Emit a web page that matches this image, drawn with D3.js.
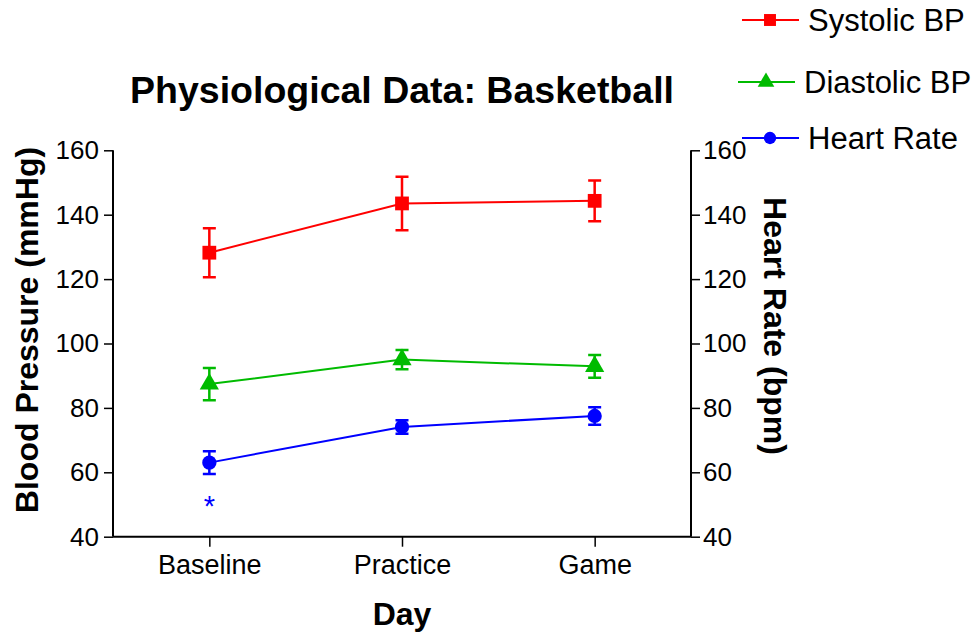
<!DOCTYPE html>
<html>
<head>
<meta charset="utf-8">
<script src="https://cdn.jsdelivr.net/npm/d3@7"></script>
<style>
  body { margin: 0; background: #fff; }
  text { font-family: "Liberation Sans", Arial, sans-serif; }
</style>
</head>
<body>
<div id="chart"></div>
<script>
(function() {
	// data
	var days = ["Baseline", "Practice", "Game"];
	var systolic = [128.2, 143.5, 144.3];
	var systolicErr = [7.6, 8.3, 6.3];
	var diastolic = [87.4, 95.0, 92.9];
	var diastolicErr = [5.0, 3.0, 3.5];
	var heartRate = [63.0, 74.1, 77.5];
	var heartRateErr = [3.5, 2.1, 2.7];
	var yTicks = [40, 60, 80, 100, 120, 140, 160];

	var width = 976;
	var height = 633;
	var left = 113, right = 691, top = 150.3, bottom = 536.7;

	var svg = d3.select("#chart")
		.append("svg")
		.attr("width", width)
		.attr("height", height);

	var x = d3.scalePoint()
		.domain(days)
		.range([left, right])
		.padding(0.5);
	var y = d3.scaleLinear()
		.domain([40, 160])
		.range([bottom, top]);
	// heart rate axis on the right uses the same range
	var y2 = d3.scaleLinear()
		.domain([40, 160])
		.range([bottom, top]);

	// axes
	svg.append("g")
		.attr("transform", "translate(" + left + ",0)")
		.call(d3.axisLeft(y).tickValues(yTicks).tickSize(9).tickPadding(5));
	svg.append("g")
		.attr("transform", "translate(" + right + ",0)")
		.call(d3.axisRight(y2).tickValues(yTicks).tickSize(9).tickPadding(3));
	svg.append("g")
		.attr("class", "xaxis")
		.attr("transform", "translate(0," + bottom + ")")
		.call(d3.axisBottom(x).tickSize(10).tickPadding(8));
	svg.selectAll(".domain").remove();

	svg.append("line")
		.attr("x1", left).attr("x2", right)
		.attr("y1", bottom).attr("y2", bottom)
		.attr("stroke", "#000").attr("stroke-width", 2);
	svg.append("line")
		.attr("x1", left).attr("x2", left)
		.attr("y1", top).attr("y2", bottom)
		.attr("stroke", "#000").attr("stroke-width", 2);
	svg.append("line")
		.attr("x1", right).attr("x2", right)
		.attr("y1", top).attr("y2", bottom)
		.attr("stroke", "#000").attr("stroke-width", 2);

	svg.selectAll(".tick line").attr("stroke", "#000").attr("stroke-width", 1.5);
	svg.selectAll(".tick text")
		.attr("fill", "#000")
		.style("font-size", "26px")
		.style("font-family", "Liberation Sans, Arial, sans-serif");
	svg.selectAll(".xaxis .tick text").style("font-size", "27px");

	// titles
	svg.append("text")
		.attr("x", 402).attr("y", 103)
		.attr("text-anchor", "middle")
		.style("font-size", "37.5px").style("font-weight", "bold")
		.text("Physiological Data: Basketball");
	svg.append("text")
		.attr("x", 402).attr("y", 625)
		.attr("text-anchor", "middle")
		.style("font-size", "32px").style("font-weight", "bold")
		.text("Day");
	svg.append("text")
		.attr("transform", "translate(38,330) rotate(-90)")
		.attr("text-anchor", "middle")
		.style("font-size", "32px").style("font-weight", "bold")
		.text("Blood Pressure (mmHg)");
	svg.append("text")
		.attr("transform", "translate(764,326) rotate(90)")
		.attr("text-anchor", "middle")
		.style("font-size", "32px").style("font-weight", "bold")
		.text("Heart Rate (bpm)");

	var series = [
		{ name: "Systolic BP", values: systolic, errs: systolicErr, color: "#ff0000", shape: d3.symbolSquare, size: 190, scale: y },
		{ name: "Diastolic BP", values: diastolic, errs: diastolicErr, color: "#00bb00", shape: d3.symbolTriangle, size: 160, scale: y },
		{ name: "Heart Rate", values: heartRate, errs: heartRateErr, color: "#0000ff", shape: d3.symbolCircle, size: 160, scale: y2 }
	];

	series.forEach(function(s) {
		var g = svg.append("g");
		var pts = days.map(function(d, i) {
			return { day: d, v: s.values[i], e: s.errs[i] };
		});
		var line = d3.line()
			.x(function(d) { return x(d.day); })
			.y(function(d) { return s.scale(d.v); });
		g.append("path")
			.datum(pts)
			.attr("d", line)
			.attr("fill", "none")
			.attr("stroke", s.color)
			.attr("stroke-width", 2);
		// error bars
		g.selectAll(".err")
			.data(pts)
			.enter()
			.append("path")
			.attr("fill", "none")
			.attr("stroke", s.color)
			.attr("stroke-width", 2.5)
			.attr("d", function(d) {
				var cx = x(d.day), y1 = s.scale(d.v + d.e), y0 = s.scale(d.v - d.e);
				return "M" + (cx - 6.5) + "," + y1 + "H" + (cx + 6.5) +
					"M" + cx + "," + y1 + "V" + y0 +
					"M" + (cx - 6.5) + "," + y0 + "H" + (cx + 6.5);
			});
		g.selectAll(".pt")
			.data(pts)
			.enter()
			.append("path")
			.attr("transform", function(d) {
				return "translate(" + x(d.day) + "," + s.scale(d.v) + ")";
			})
			.attr("d", d3.symbol().type(s.shape).size(s.size))
			.attr("fill", s.color);
	});

	// significance marker
	svg.append("text")
		.attr("x", x("Baseline")).attr("y", 516)
		.attr("text-anchor", "middle")
		.attr("fill", "#0000ff")
		.style("font-size", "29px")
		.text("*");

	// legend
	var legendY = [20, 82, 138];
	var legendX = [742, 738, 742];
	series.forEach(function(s, i) {
		var g = svg.append("g")
			.attr("transform", "translate(" + legendX[i] + "," + legendY[i] + ")");
		g.append("line")
			.attr("x1", 0).attr("x2", 57)
			.attr("stroke", s.color).attr("stroke-width", 2);
		g.append("path")
			.attr("transform", "translate(28,0)")
			.attr("d", d3.symbol().type(s.shape).size(s.size * 0.75))
			.attr("fill", s.color);
		g.append("text")
			.attr("x", 66).attr("y", 11)
			.style("font-size", "31px")
			.text(s.name);
	});
})();
</script>
</body>
</html>
